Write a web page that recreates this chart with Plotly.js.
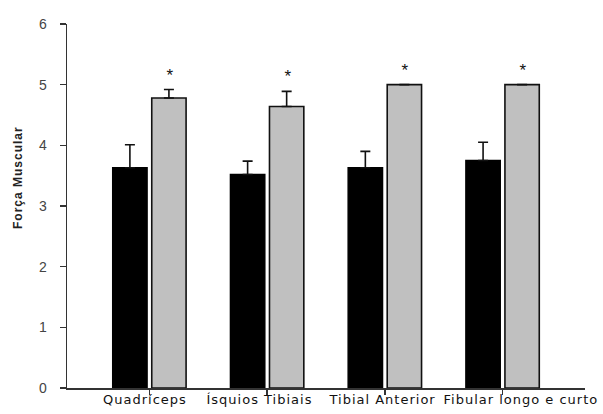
<!DOCTYPE html>
<html>
<head>
<meta charset="utf-8">
<script src="https://cdn.plot.ly/plotly-3.0.1.min.js"></script>
<style>
  html, body { margin: 0; padding: 0; background: #fff; }
  #chart { width: 603px; height: 414px; }
  .annotation text { letter-spacing: 1px; }
</style>
</head>
<body>
<div id="chart"></div>
<script>
// Muscle groups on the x axis
const categories = ["Quadríceps", "Ísquios Tibiais", "Tibial Anterior", "Fibular longo e curto"];

// Muscle strength before (black) and after (grey)
const beforeValues = [3.63, 3.52, 3.63, 3.75];
const beforeErrors = [0.38, 0.22, 0.27, 0.30];
const afterValues  = [4.78, 4.64, 5.00, 5.00];
const afterErrors  = [0.14, 0.25, 0.00, 0.00];

// Significance markers above the grey bars
const markers = ["*", "*", "*", "*"];

const yTicks = [0, 1, 2, 3, 4, 5, 6];

// Horizontal nudges for the category captions under the axis
const labelShift = [-4, -8, -2, 18];

// A zero error means no error bar is drawn for that bar
const upper = arr => arr.map(v => (v > 0 ? v : null));
const lower = arr => arr.map(() => 0);

const traces = [
  {
    type: "bar",
    x: categories,
    y: beforeValues,
    marker: { color: "#000000", line: { color: "#000000", width: 1.5 } },
    error_y: { type: "data", array: upper(beforeErrors), arrayminus: lower(beforeErrors),
               symmetric: false, color: "#111", thickness: 1.6, width: 5 }
  },
  {
    type: "bar",
    x: categories,
    y: afterValues,
    marker: { color: "#c0c0c0", line: { color: "#111111", width: 1.6 } },
    error_y: { type: "data", array: upper(afterErrors), arrayminus: lower(afterErrors),
               symmetric: false, color: "#111", thickness: 1.6, width: 5 }
  }
];

const annotations = categories.map((c, i) => ({
  x: c, xref: "x", y: afterValues[i] + afterErrors[i], yref: "y",
  text: markers[i], showarrow: false, xshift: 21, yanchor: "bottom", yshift: 3,
  font: { family: "Liberation Sans, Arial, sans-serif", size: 17, color: "#111" }
}));

// Category captions
categories.forEach((c, i) => {
  annotations.push({
    x: c, xref: "x", y: 0, yref: "y",
    text: c, showarrow: false, xanchor: "center", yanchor: "top",
    xshift: labelShift[i], yshift: -2,
    font: { family: "DejaVu Sans, sans-serif", size: 13, color: "#111" }
  });
});

annotations.push({
  text: "<b>Força Muscular</b>", textangle: -90, showarrow: false,
  xref: "paper", x: -0.095, xanchor: "center",
  yref: "paper", y: 0.579, yanchor: "middle",
  font: { family: "Liberation Sans, Arial, sans-serif", size: 12, color: "#222" }
});

const layout = {
  width: 603, height: 414,
  margin: { l: 67, r: 18, t: 24, b: 26 },
  paper_bgcolor: "#ffffff", plot_bgcolor: "#ffffff",
  showlegend: false,
  barmode: "group",
  bargap: 0.337,
  bargroupgap: 0.12,
  xaxis: {
    type: "category",
    range: [-0.7, 3.7],
    showline: true, linecolor: "#333", linewidth: 1.5,
    ticks: "outside", ticklen: 5, tickcolor: "#333", tickwidth: 1.5,
    showgrid: false, zeroline: false,
    showticklabels: false
  },
  yaxis: {
    range: [0, 6],
    tickvals: yTicks,
    showline: true, linecolor: "#333", linewidth: 1.5,
    ticks: "outside", ticklen: 6, tickcolor: "#333", tickwidth: 1.5,
    showgrid: false, zeroline: false,
    tickfont: { family: "Liberation Sans, Arial, sans-serif", size: 14, color: "#444" },
    ticklabelstandoff: 10
  },
  annotations: annotations
};

Plotly.newPlot("chart", traces, layout, { displayModeBar: false, staticPlot: true });
</script>
</body>
</html>
